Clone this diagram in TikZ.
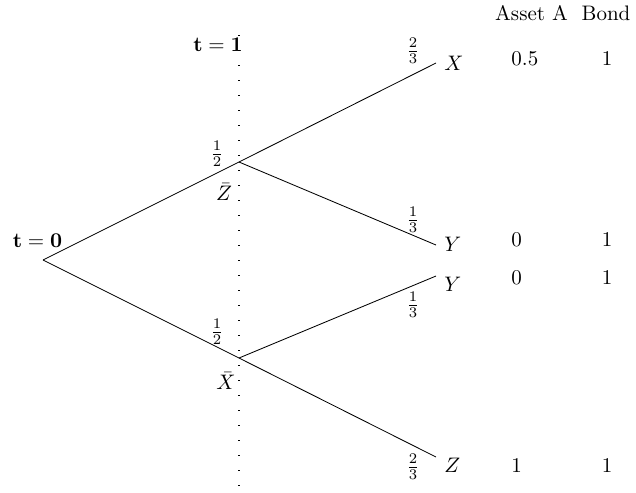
\documentclass[tikz,border=0pt]{standalone}
\begin{document}
\begin{tikzpicture}[x=0.476pt,y=-0.476pt,
  branch/.style={line width=0.4pt},
  timeline/.style={line width=0.7pt,dash pattern=on 0.6pt off 6.54pt},
  lab/.style={inner sep=0pt},
  labb/.style={inner sep=0pt,anchor=base},
  labw/.style={inner sep=0pt,anchor=base west}]
\useasboundingbox (0,0) rectangle (636,492);
% time line
\coordinate (tltop) at (239,35);
\coordinate (tlbot) at (239,487);
\draw[timeline] (tltop) -- (tlbot);
% tree
\coordinate (r) at (43,260);
\coordinate (m1) at (239,162);
\coordinate (m2) at (239,358);
\coordinate (e1) at (436,63);
\coordinate (e2) at (436,245);
\coordinate (e3) at (436,276);
\coordinate (e4) at (436,457);
\draw[branch] (r) -- (m1);
\draw[branch] (r) -- (m2);
\draw[branch] (m1) -- (e1);
\draw[branch] (m1) -- (e2);
\draw[branch] (m2) -- (e3);
\draw[branch] (m2) -- (e4);
% time labels
\node[labb] (t1) at (218,51) {$\mathbf{t=1}$};
\node[labb] (t0) at (37.5,247) {$\mathbf{t=0}$};
% probabilities
\node[lab] (p1) at (217,154) {$\frac{1}{2}$};
\node[lab] (p2) at (217,332) {$\frac{1}{2}$};
\node[lab] (p3) at (413,51) {$\frac{2}{3}$};
\node[lab] (p4) at (413,220) {$\frac{1}{3}$};
\node[lab] (p5) at (413,305) {$\frac{1}{3}$};
\node[lab] (p6) at (413,467) {$\frac{2}{3}$};
% middle states
\node[lab] (zb) at (224,192) {$\bar{Z}$};
\node[lab] (xb) at (226,381) {$\bar{X}$};
% final states
\node[labw] (sx) at (444,70) {$X$};
\node[labw] (sy1) at (444,251) {$Y$};
\node[labw] (sy2) at (444,291) {$Y$};
\node[labw] (sz) at (444,472) {$Z$};
% table
\node[labb] (ha) at (531.5,20) {Asset A};
\node[labb] (hb) at (606,20) {Bond};
\node[labw] (a1) at (511,65) {0.5};
\node[labw] (a2) at (511,246) {0};
\node[labw] (a3) at (511,284) {0};
\node[labw] (a4) at (511,472) {1};
\node[labb] (b1) at (607,65) {1};
\node[labb] (b2) at (607,246) {1};
\node[labb] (b3) at (607,284) {1};
\node[labb] (b4) at (607,472) {1};
\end{tikzpicture}
\end{document}
